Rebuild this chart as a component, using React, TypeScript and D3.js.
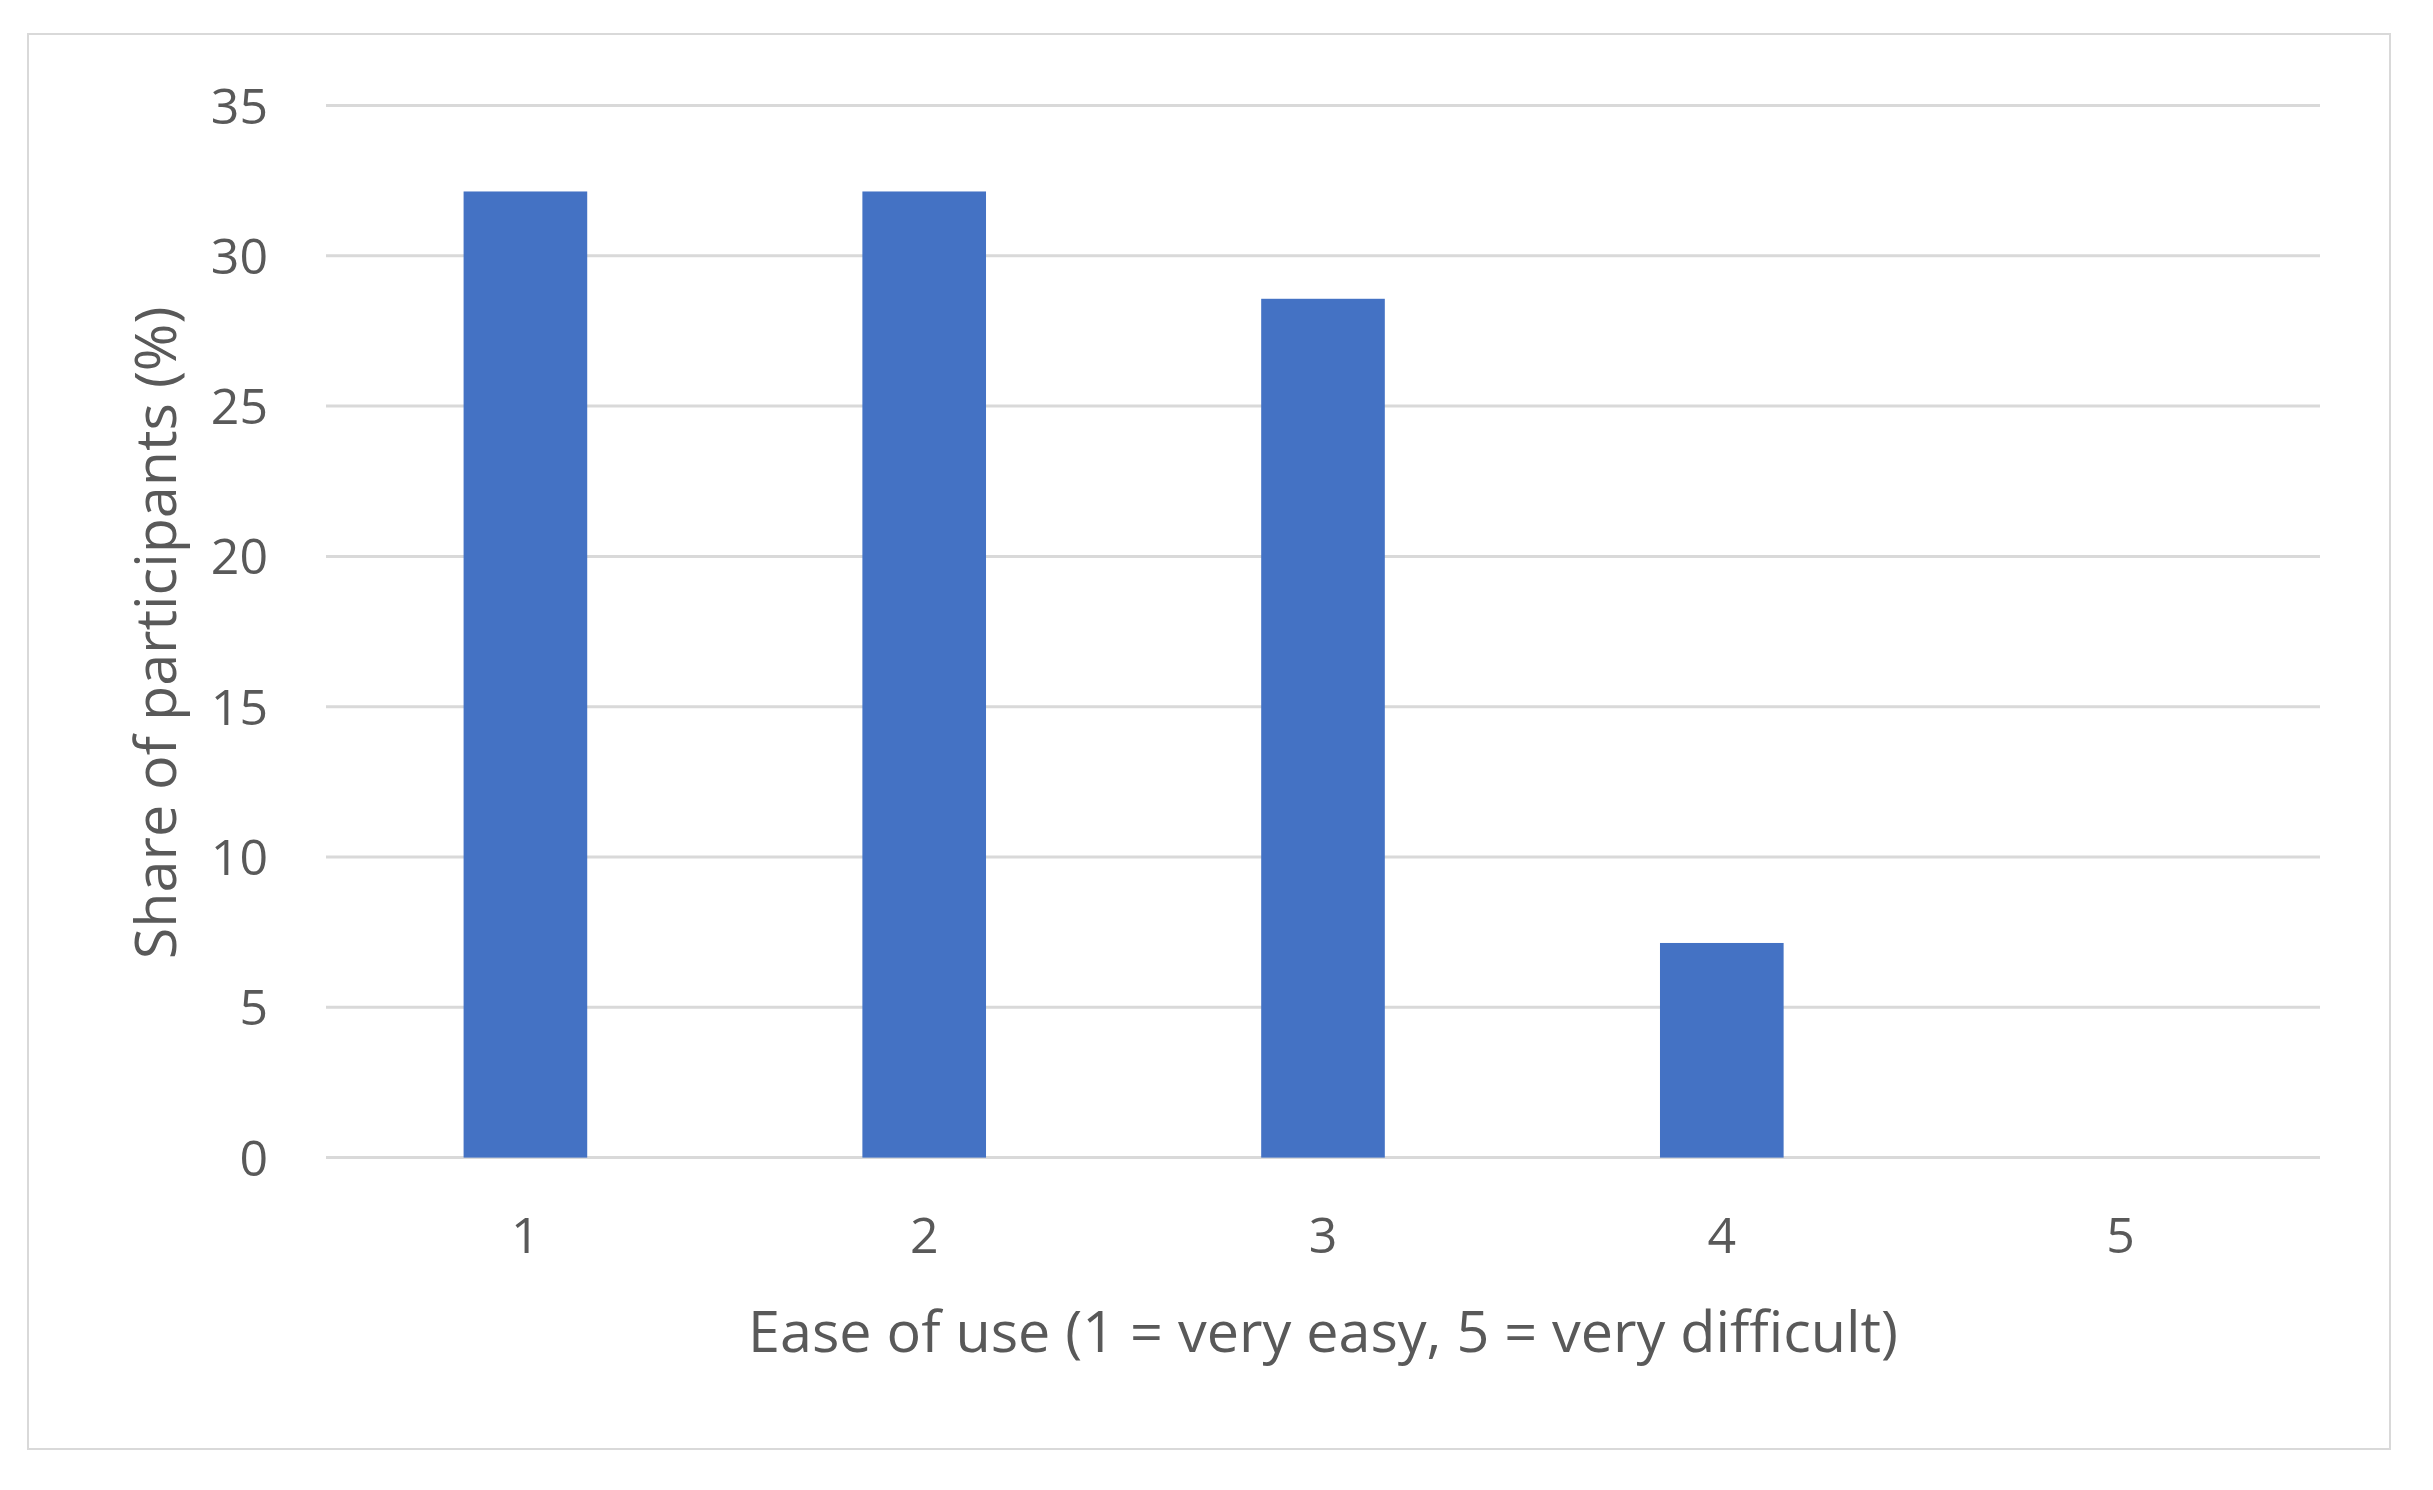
import React from "react";
import * as d3 from "d3";

const categories = ["1", "2", "3", "4", "5"];
const shares = [32.14, 32.14, 28.57, 7.14, 0];
const yTicks = [0, 5, 10, 15, 20, 25, 30, 35];
const xTitle = "Ease of use (1 = very easy, 5 = very difficult)";
const yTitle = "Share of participants (%)";

const W = 2433;
const H = 1490;
const left = 326;
const right = 2320;
const top = 105.5;
const bottom = 1157.6;
const textColor = "#595959";
const gridColor = "#d9d9d9";
const barColor = "#4472c4";
const font = "'Open Sans', 'Noto Sans', sans-serif";

export default function App() {
  const x = d3.scaleBand<string>().domain(categories).range([left, right]).paddingInner(0.69).paddingOuter(0.345);
  const y = d3.scaleLinear().domain([0, 35]).range([bottom, top]);
  return (
    <svg width={W} height={H} style={{ position: "absolute", left: 0, top: 0, background: "#fff" }}>
      <rect x={0} y={0} width={W} height={H} fill="#fff" />
      <rect x={28} y={34} width={2362} height={1415} fill="#fff" stroke="#d9d9d9" strokeWidth={2} />
      {yTicks.map((t) => (
        <g key={t}>
          <line x1={left} x2={right} y1={y(t)} y2={y(t)} stroke={gridColor} strokeWidth={3} />
          <text x={268} y={y(t)} dy="0.36em" textAnchor="end" fontSize={50} fill={textColor} fontFamily={font}>
            {t}
          </text>
        </g>
      ))}
      {categories.map((c, i) => (
        <rect key={c} x={x(c)} y={y(shares[i])} width={x.bandwidth()} height={y(0) - y(shares[i])} fill={barColor} />
      ))}
      {categories.map((c) => (
        <text key={c} x={(x(c) as number) + x.bandwidth() / 2} y={1235} dy="0.36em" textAnchor="middle" fontSize={50} fill={textColor} fontFamily={font}>
          {c}
        </text>
      ))}
      <text x={(left + right) / 2} y={1331} dy="0.36em" textAnchor="middle" fontSize={57.5} fill={textColor} fontFamily={font}>
        {xTitle}
      </text>
      <text transform={`translate(155, 633) rotate(-90)`} dy="0.36em" textAnchor="middle" fontSize={57.5} fill={textColor} fontFamily={font}>
        {yTitle}
      </text>
    </svg>
  );
}
